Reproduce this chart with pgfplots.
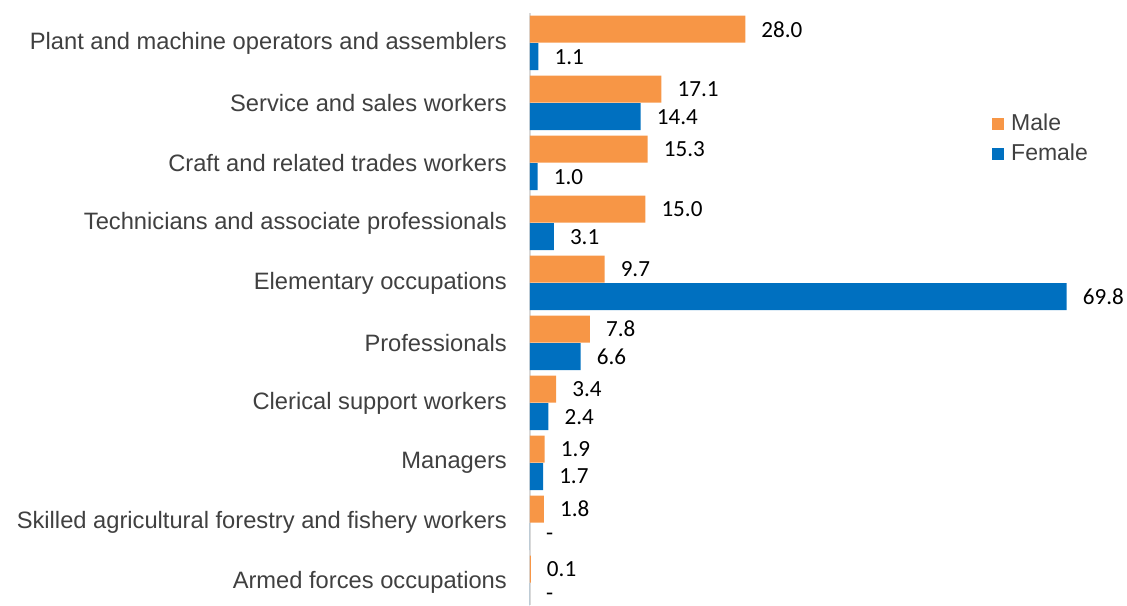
\documentclass[border=0pt]{standalone}
\usepackage{fontspec}
\setmainfont{Liberation Sans}
\newfontfamily\carlito{Carlito}
\usepackage{pgfplots}
\pgfplotsset{compat=1.18}
\definecolor{male}{HTML}{F79646}
\definecolor{female}{HTML}{0070C0}
\definecolor{labelgray}{HTML}{404040}
\definecolor{axisgray}{HTML}{D9D9D9}
\begin{document}
\begin{tikzpicture}
\useasboundingbox (0,0) rectangle (1127pt,605pt);
\begin{axis}[
  at={(530pt,0pt)}, anchor=south west,
  scale only axis, width=592pt, height=592pt,
  xbar, xmin=0, xmax=77,
  ymin=-0.5, ymax=9.37, y dir=reverse,
  clip=false,
  axis x line=none,
  axis y line=left,
  y axis line style={draw=axisgray, line width=2pt, -},
  xtick=\empty,
  ytick={0,...,9},
  yticklabels={Plant and machine operators and assemblers,
    Service and sales workers,
    Craft and related trades workers,
    Technicians and associate professionals,
    Elementary occupations,
    Professionals,
    Clerical support workers,
    Managers,
    Skilled agricultural forestry and fishery workers,
    Armed forces occupations},
  major tick length=0pt,
  yticklabel style={font=\fontsize{23.7}{28}\selectfont, text=labelgray, anchor=east, inner sep=0pt, xshift=-23pt},
  bar width=27pt,
  point meta=explicit symbolic,
  nodes near coords,
  nodes near coords style={font=\carlito\fontsize{23.1}{27}\selectfont, text=black, anchor=west, inner sep=0pt, xshift=16pt},
  legend style={at={(0.7804,0.831)}, anchor=north west, draw=none, fill=none, inner sep=0pt,
    font=\fontsize{23}{27}\selectfont, text=labelgray, row sep=8pt,
    nodes={inner sep=0pt, text height=17pt, text depth=5pt}},
  legend image code/.code={\fill[#1] (0pt,-6pt) rectangle (12pt,6pt); \path (19pt,0pt);},
  legend cell align=left,
]
\addplot[fill=male, draw=none, bar shift=13.75pt] coordinates {
  (28.0,0) [28.0]
  (17.1,1) [17.1]
  (15.3,2) [15.3]
  (15.0,3) [15.0]
  (9.7,4) [9.7]
  (7.8,5) [7.8]
  (3.4,6) [3.4]
  (1.9,7) [1.9]
  (1.8,8) [1.8]
  (0.1,9) [0.1]
};
\addplot[fill=female, draw=none, bar shift=-13.75pt] coordinates {
  (1.1,0) [1.1]
  (14.4,1) [14.4]
  (1.0,2) [1.0]
  (3.1,3) [3.1]
  (69.8,4) [69.8]
  (6.6,5) [6.6]
  (2.4,6) [2.4]
  (1.7,7) [1.7]
  (0,8) [-]
  (0,9) [-]
};
\legend{Male,Female}
\end{axis}
\end{tikzpicture}
\end{document}
